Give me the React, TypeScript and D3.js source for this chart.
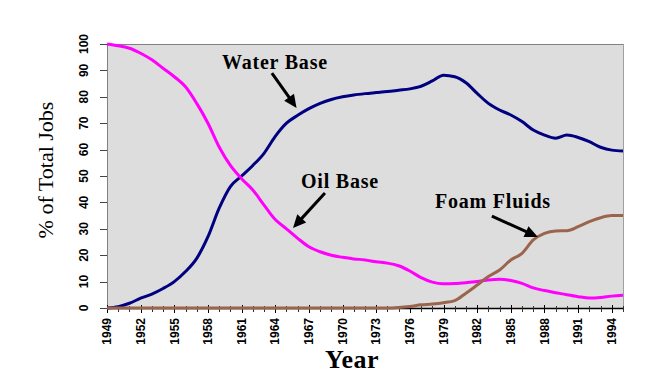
import React from "react";
import * as d3 from "d3";

const years: number[] = d3.range(1949, 1996);

const waterBase: number[] = [
  0, 0.5, 1.8, 3.7, 5.3, 7.4, 10, 13.8, 18.8, 27,
  37.8, 46, 50, 54, 58.6, 65, 70, 73, 75.5, 77.5,
  79, 80, 80.7, 81.2, 81.6, 82, 82.5, 83, 84, 86,
  88.2, 87.6, 85.3, 81.3, 77.5, 75, 73.1, 70.6, 67.4, 65.5,
  64.3, 65.5, 64.6, 63, 60.9, 59.8, 59.5,
];

const oilBase: number[] = [
  100, 99.3, 98.4, 96.5, 94, 90.8, 87.6, 83.8, 77.5, 70,
  61, 54, 49, 44.7, 39, 33.5, 30, 26.4, 23.2, 21.3,
  20, 19.2, 18.6, 18.2, 17.5, 17, 16, 14, 11.5, 9.8,
  9.2, 9.3, 9.6, 10, 10.6, 10.9, 10.4, 9.3, 7.6, 6.6,
  5.8, 5, 4.3, 3.8, 4, 4.5, 4.8,
];

const foamFluids: number[] = [
  0, 0, 0, 0, 0, 0, 0, 0, 0, 0,
  0, 0, 0, 0, 0, 0, 0, 0, 0, 0,
  0, 0, 0, 0, 0, 0, 0.2, 0.6, 1.2, 1.5,
  2, 2.8, 5.6, 8.7, 11.9, 14.4, 18.2, 20.7, 25.8, 28.3,
  29.2, 29.3, 30.8, 32.7, 34.2, 35, 35,
];

const xTickLabels: number[] = d3.range(1949, 1995, 3);
const yTicks: number[] = d3.range(0, 101, 10);

const seriesNames = ["Water Base", "Oil Base", "Foam Fluids"];

// annotation: label anchor and arrow (start -> tip) in data units
const annotations = [
  { text: "Water Base", tx: 1959.25, ty: 90.5, x1: 1963.7, y1: 89.0, x2: 1965.9, y2: 75.8 },
  { text: "Oil Base", tx: 1966.29, ty: 45.5, x1: 1968.43, y1: 43.6, x2: 1965.58, y2: 30.3 },
  { text: "Foam Fluids", tx: 1978.23, ty: 37.9, x1: 1983.31, y1: 34.8, x2: 1987.41, y2: 26.9 },
];

const W = 655;
const H = 376;
const left = 107;
const right = 623;
const top = 44;
const bottom = 308;

export default function App() {
  const x = d3.scaleLinear().domain([1949, 1995]).range([left, right]);
  const y = d3.scaleLinear().domain([0, 100]).range([bottom, top]);

  const line = (vals: number[]) =>
    d3
      .line<number>()
      .x((_, i) => x(years[i]))
      .y((d) => y(d))
      .curve(d3.curveMonotoneX)(vals) || "";

  const series = [
    { name: seriesNames[0], vals: waterBase, color: "#000080" },
    { name: seriesNames[1], vals: oilBase, color: "#ff00ff" },
    { name: seriesNames[2], vals: foamFluids, color: "#9a654c" },
  ];

  const sans = "'Liberation Sans', Arial, sans-serif";
  const serif = "'Liberation Serif', 'Times New Roman', serif";

  const arrow = (a: typeof annotations[0], i: number) => {
    const sx = x(a.x1), sy = y(a.y1), ex = x(a.x2), ey = y(a.y2);
    const dx = ex - sx, dy = ey - sy;
    const len = Math.hypot(dx, dy);
    const ux = dx / len, uy = dy / len;
    const hl = 13, hw = 6;
    const bx = ex - ux * hl, by = ey - uy * hl;
    const px = -uy, py = ux;
    const pts = [
      [ex, ey],
      [bx + px * hw, by + py * hw],
      [bx - px * hw, by - py * hw],
    ];
    return (
      <g key={"ar" + i}>
        <line x1={sx} y1={sy} x2={bx + ux * 2} y2={by + uy * 2} stroke="#000" strokeWidth={3} />
        <polygon points={pts.map((p) => p.join(",")).join(" ")} fill="#000" />
      </g>
    );
  };

  return (
    <svg
      width={W}
      height={H}
      style={{ position: "fixed", left: 0, top: 0, background: "#fff" }}
    >
      <rect x={0} y={0} width={W} height={H} fill="#fff" />
      <rect x={left} y={top} width={right - left} height={bottom - top} fill="#dddddd" />
      {/* top and right border */}
      <line x1={left} y1={top + 0.5} x2={right} y2={top + 0.5} stroke="#808080" />
      <line x1={right + 0.5} y1={top} x2={right + 0.5} y2={bottom} stroke="#a0a0a0" />
      {/* left axis */}
      <line x1={left + 0.5} y1={top} x2={left + 0.5} y2={bottom} stroke="#808080" />
      {yTicks.map((t) => (
        <g key={"yt" + t}>
          <line x1={left - 7} x2={left} y1={Math.round(y(t)) + 0.5} y2={Math.round(y(t)) + 0.5} stroke="#444" />
          <text
            transform={`translate(84,${y(t)}) rotate(-90)`}
            textAnchor="middle"
            dy="0.35em"
            fontFamily={sans}
            fontWeight="bold"
            fontSize={12}
            fill="#000"
          >
            {t}
          </text>
        </g>
      ))}
      {/* bottom axis */}
      <line x1={left} y1={bottom + 0.5} x2={right + 1} y2={bottom + 0.5} stroke="#000" strokeWidth={1.5} />
      {years.map((yr) => {
        const major = xTickLabels.includes(yr);
        return (
          <line
            key={"xt" + yr}
            x1={Math.round(x(yr)) + 0.5}
            x2={Math.round(x(yr)) + 0.5}
            y1={bottom - (major ? 3 : 2)}
            y2={bottom + (major ? 5 : 4)}
            stroke={major ? "#000" : "#333"}
          />
        );
      })}
      {xTickLabels.map((t) => (
        <text
          key={"xl" + t}
          transform={`translate(${x(t)},318) rotate(-90)`}
          textAnchor="end"
          dy="0.35em"
          fontFamily={sans}
          fontWeight="bold"
          fontSize={12}
          fill="#000"
        >
          {t}
        </text>
      ))}
      {series.map((s) => (
        <path
          key={s.name}
          d={line(s.vals)}
          fill="none"
          stroke={s.color}
          strokeWidth={3}
          strokeLinejoin="round"
        />
      ))}
      {annotations.map((a, i) => (
        <text
          key={"an" + i}
          x={x(a.tx)}
          y={y(a.ty)}
          fontFamily={serif}
          fontWeight="bold"
          fontSize={20}
          letterSpacing={0.8}
          fill="#000"
        >
          {a.text}
        </text>
      ))}
      {annotations.map(arrow)}
      <text
        transform="translate(53,170) rotate(-90)"
        textAnchor="middle"
        fontFamily={serif}
        fontSize={22}
        fill="#000"
      >
        % of Total Jobs
      </text>
      <text
        x={352}
        y={368}
        textAnchor="middle"
        fontFamily={serif}
        fontWeight="bold"
        fontSize={26}
        letterSpacing={0.5}
        fill="#000"
      >
        Year
      </text>
    </svg>
  );
}
